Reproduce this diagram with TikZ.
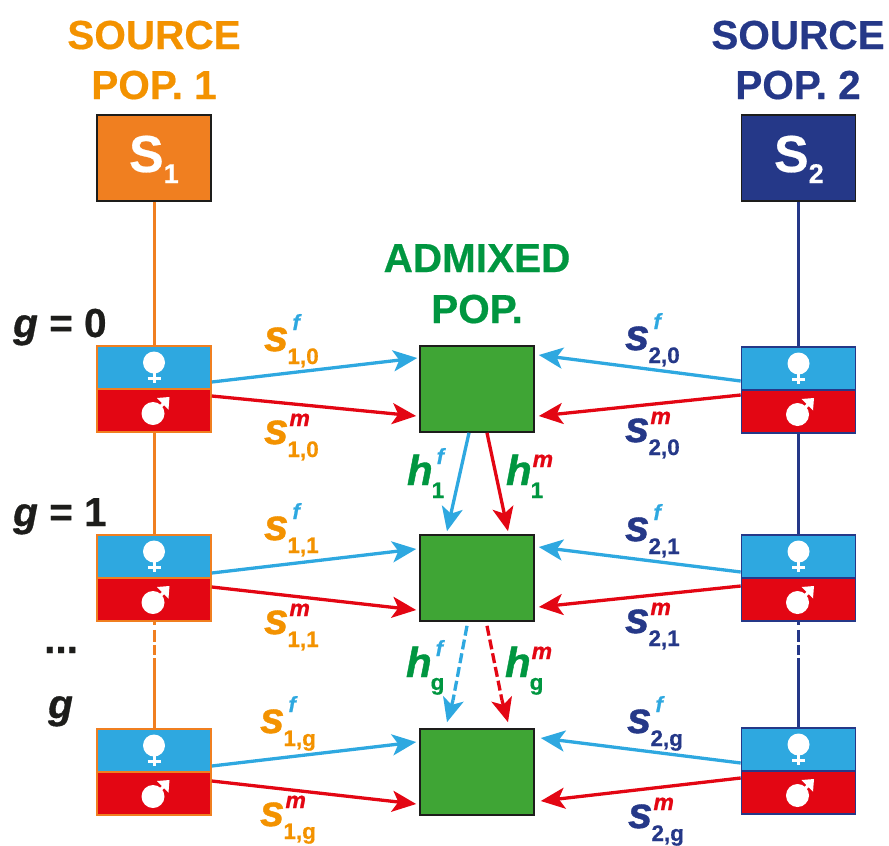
\documentclass[tikz,border=0pt]{standalone}
\usepackage{fontspec}
\setmainfont{Liberation Sans}[BoldFeatures={FakeBold=0.5},BoldItalicFeatures={FakeBold=0.9}]
\usetikzlibrary{arrows.meta}
\definecolor{cOrange}{HTML}{F39200}
\definecolor{cOrangeB}{HTML}{F07F20}
\definecolor{cNavy}{HTML}{253888}
\definecolor{cBlue}{HTML}{2EA8E0}
\definecolor{cRed}{HTML}{E30613}
\definecolor{cGreen}{HTML}{3FA535}
\definecolor{cGreenT}{HTML}{009640}
\definecolor{cDark}{HTML}{1D1D1B}
\newcommand\fsz[1]{\fontsize{#1}{#1}\selectfont}
\newcommand\supf{\rlap{\kern4pt\raisebox{21pt}{\color{cBlue}\fsz{22}\bfseries\itshape f}}}
\newcommand\supm{\rlap{\kern1pt\raisebox{18pt}{\color{cRed}\fsz{23}\bfseries\itshape m}}}
% name, position, colour, size, letter, sup macro, subscript
\newcommand\lab[7]{\node[lbl,text=#3] (#1) at (#2) {\fsz{#4}\bfseries\itshape #5#6\kern-1pt\raisebox{-13pt}{\fsz{22.5}\upshape #7}};}
\newcommand\sexpair[5]{% suffix, x, top centre y, bottom centre y, colour
  \node[sexbox,draw=#5,fill=cBlue] (f#1) at (#2,#3) {};
  \node[sexbox,draw=#5,fill=cRed] (m#1) at (#2,#4) {};
  \pic at (f#1.center) {venussym};
  \pic at (m#1.center) {marssym};
}
\tikzset{
  x=1pt,y=-1pt,
  sexbox/.style={rectangle,minimum width=114pt,minimum height=43pt,inner sep=0pt,line width=1.6pt},
  greenbox/.style={rectangle,minimum width=114pt,minimum height=86pt,inner sep=0pt,line width=1.6pt,draw=cDark,fill=cGreen},
  srcbox/.style={rectangle,minimum width=114pt,minimum height=86pt,inner sep=0pt,line width=1.6pt,draw=cDark,text=white},
  lbl/.style={anchor=base west,inner sep=0pt,outer sep=0pt},
  ttl/.style={anchor=base,inner sep=0pt,font=\fsz{40.5}\bfseries},
  glab/.style={anchor=base west,inner sep=0pt,text=cDark,font=\fsz{40.5}\bfseries},
  arr/.style={line width=3.3pt,-{Stealth[length=24pt,width=21pt,inset=6pt]}},
  dsh/.style={dash pattern=on 10pt off 4pt},
  lineO/.style={line width=3pt,draw=cOrangeB},
  lineN/.style={line width=3pt,draw=cNavy},
  venussym/.pic={
    \fill[white] (0,-5) circle[radius=11];
    \draw[white,line width=3pt] (0,3) -- (0,15.5);
    \draw[white,line width=3pt] (-6.5,11) -- (6.5,11);
  },
  marssym/.pic={
    \fill[white] (-1,3) circle[radius=11.5];
    \draw[white,line width=3.2pt] (-1,3) -- (13,-10);
    \fill[white] (15.5,-13.5) -- (3,-12.5) -- (14.5,-1) -- cycle;
  },
}
\begin{document}
\begin{tikzpicture}
\useasboundingbox (0,0) rectangle (889,846);
\coordinate (dL) at (154,658);
\coordinate (dR) at (798.5,658);
% titles
\node[ttl,text=cOrange] (t1a) at (154,49) {SOURCE};
\node[ttl,text=cOrange] (t1b) at (154,99) {POP. 1};
\node[ttl,text=cNavy] (t2a) at (798,49) {SOURCE};
\node[ttl,text=cNavy] (t2b) at (798,99) {POP. 2};
\node[ttl,text=cGreenT] (tma) at (477,272) {ADMIXED};
\node[ttl,text=cGreenT] (tmb) at (477,323) {POP.};
% sources
\node[srcbox,fill=cOrangeB] (S1) at (154,158) {};
\node[srcbox,fill=cNavy] (S2) at (798.5,158) {};
\node[lbl,text=white] (S1t) at (129,172) {\fsz{52}\bfseries S\raisebox{-11pt}{\fsz{27}1}};
\node[lbl,text=white] (S2t) at (774,172) {\fsz{52}\bfseries S\raisebox{-11pt}{\fsz{27}2}};
% sex boxes
\sexpair{L0}{154}{367.5}{410.5}{cOrangeB}
\sexpair{L1}{154}{556.5}{599.5}{cOrangeB}
\sexpair{L2}{154}{750.5}{793.5}{cOrangeB}
\sexpair{R0}{798.5}{368.5}{411.5}{cNavy}
\sexpair{R1}{798.5}{556.5}{599.5}{cNavy}
\sexpair{R2}{798.5}{749.5}{792.5}{cNavy}
% green boxes
\node[greenbox] (G0) at (477,389) {};
\node[greenbox] (G1) at (477,578) {};
\node[greenbox] (G2) at (477,772) {};
% vertical connectors
\draw[lineO] (S1) -- (fL0);
\draw[lineO] (mL0) -- (fL1);
\draw[lineO,dash pattern=on 3pt off 5pt on 12pt off 3pt on 10pt off 3pt] (mL1) -- (dL);
\draw[lineO] (dL) -- (fL2);
\draw[lineN] (S2) -- (fR0);
\draw[lineN] (mR0) -- (fR1);
\draw[lineN,dash pattern=on 3pt off 5pt on 12pt off 3pt on 10pt off 3pt] (mR1) -- (dR);
\draw[lineN] (dR) -- (fR2);
% left arrows
\draw[arr,cBlue] ([yshift=-14.5pt]fL0.east) -- ([xshift=-2pt,yshift=31pt]G0.west);
\draw[arr,cRed]  ([yshift=14.5pt]mL0.east) -- ([xshift=-3pt,yshift=-27pt]G0.west);
\draw[arr,cBlue] ([yshift=-16.5pt]fL1.east) -- ([xshift=-3pt,yshift=29pt]G1.west);
\draw[arr,cRed]  ([yshift=12.5pt]mL1.east) -- ([xshift=-3pt,yshift=-32pt]G1.west);
\draw[arr,cBlue] ([yshift=-15.5pt]fL2.east) -- ([xshift=-3pt,yshift=30pt]G2.west);
\draw[arr,cRed]  ([yshift=12.5pt]mL2.east) -- ([xshift=-3pt,yshift=-32pt]G2.west);
% right arrows
\draw[arr,cBlue] ([yshift=-12.5pt]fR0.west) -- ([xshift=4pt,yshift=34pt]G0.east);
\draw[arr,cRed]  ([yshift=16.5pt]mR0.west) -- ([xshift=4pt,yshift=-27pt]G0.east);
\draw[arr,cBlue] ([yshift=-15.5pt]fR1.west) -- ([xshift=4pt,yshift=31pt]G1.east);
\draw[arr,cRed]  ([yshift=13.5pt]mR1.west) -- ([xshift=4pt,yshift=-29pt]G1.east);
\draw[arr,cBlue] ([yshift=-13.5pt]fR2.west) -- ([xshift=6pt,yshift=34pt]G2.east);
\draw[arr,cRed]  ([yshift=14.5pt]mR2.west) -- ([xshift=6pt,yshift=-29pt]G2.east);
% hybrid arrows
\draw[arr,cBlue] ([xshift=-8pt]G0.south) -- ([xshift=-30pt,yshift=3pt]G1.north);
\draw[arr,cRed]  ([xshift=10pt]G0.south) -- ([xshift=31pt,yshift=3pt]G1.north);
\draw[line width=3.3pt,dsh,cBlue] ([xshift=-10pt,yshift=-4pt]G1.south) -- ([xshift=-24pt,yshift=28pt]G2.north) coordinate (bd);
\draw[arr,cBlue] (bd) -- ([xshift=-30pt,yshift=6pt]G2.north);
\draw[line width=3.3pt,dsh,cRed] ([xshift=10pt,yshift=-4pt]G1.south) -- ([xshift=25pt,yshift=28pt]G2.north) coordinate (rd);
\draw[arr,cRed] (rd) -- ([xshift=31pt,yshift=6pt]G2.north);
% g labels
\node[glab] (g0) at (13,337) {\itshape g\upshape{} = 0};
\node[glab] (g1) at (13,526) {\itshape g\upshape{} = 1};
\node[glab] (gd) at (44,653) {...};
\node[glab] (gg) at (48,718) {\itshape g};
% s labels left
\lab{a1}{264,351}{cOrange}{44}{s}{\supf}{1,0}
\lab{a2}{264,444}{cOrange}{44}{s}{\supm}{1,0}
\lab{a3}{264,540}{cOrange}{44}{s}{\supf}{1,1}
\lab{a4}{264,634}{cOrange}{44}{s}{\supm}{1,1}
\lab{a5}{260,733}{cOrange}{44}{s}{\supf}{1,g}
\lab{a6}{260,826}{cOrange}{44}{s}{\supm}{1,g}
% s labels right
\lab{b1}{625,350}{cNavy}{44}{s}{\supf}{2,0}
\lab{b2}{625,442}{cNavy}{44}{s}{\supm}{2,0}
\lab{b3}{625,541}{cNavy}{44}{s}{\supf}{2,1}
\lab{b4}{625,633}{cNavy}{44}{s}{\supm}{2,1}
\lab{b5}{627,733}{cNavy}{44}{s}{\supf}{2,g}
\lab{b6}{628,828}{cNavy}{44}{s}{\supm}{2,g}
% h labels
\lab{h1}{407,485}{cGreenT}{42}{h}{\supf}{1}
\lab{h2}{506,485}{cGreenT}{42}{h}{\supm}{1}
\lab{h3}{406,677}{cGreenT}{42}{h}{\supf}{g}
\lab{h4}{505,677}{cGreenT}{42}{h}{\supm}{g}
\end{tikzpicture}
\end{document}
